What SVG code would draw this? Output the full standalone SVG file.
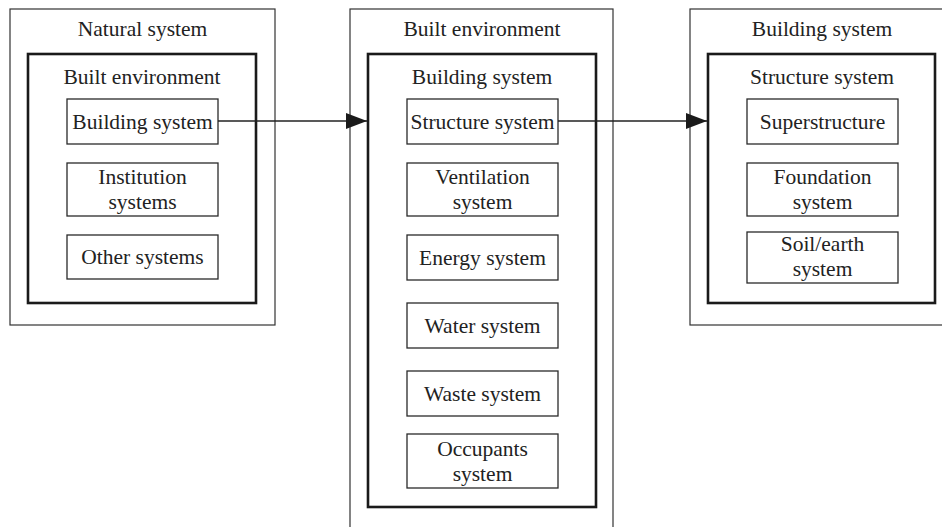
<svg xmlns="http://www.w3.org/2000/svg" width="942" height="527" viewBox="0 0 942 527">
<style>
.outer{fill:none;stroke:#333;stroke-width:1.2}
.inner{fill:none;stroke:#1a1a1a;stroke-width:2.6}
.box{fill:#fff;stroke:#2a2a2a;stroke-width:1.3}
text{font-family:"Liberation Serif","Times New Roman",serif;font-size:21.5px;fill:#222;text-anchor:middle}
.conn{stroke:#222;stroke-width:1.3;fill:none}
</style>
<defs>
<marker id="ah" markerWidth="21" markerHeight="16" refX="21" refY="8" orient="auto" markerUnits="userSpaceOnUse">
<path d="M0,0 L21,8 L0,16 Z" fill="#1a1a1a"/>
</marker>
</defs>
<rect width="942" height="527" fill="#fff"/>

<g id="natural-system">
<rect class="outer" x="10" y="9" width="265" height="316"/>
<text x="142.5" y="36">Natural system</text>
</g>
<g id="built-env-left">
<rect class="inner" x="28" y="54" width="228" height="249"/>
<text x="142" y="84">Built environment</text>
</g>
<g id="building-system-left">
<rect class="box" x="67" y="99" width="151" height="45"/>
<text x="142.5" y="129">Building system</text>
</g>
<g id="institution-systems">
<rect class="box" x="67" y="163" width="151" height="53"/>
<text x="142.5" y="184">Institution</text>
<text x="142.5" y="209">systems</text>
</g>
<g id="other-systems">
<rect class="box" x="67" y="235" width="151" height="44"/>
<text x="142.5" y="264">Other systems</text>
</g>

<g id="built-env-middle">
<rect class="outer" x="350" y="9" width="263" height="530"/>
<text x="482" y="36">Built environment</text>
</g>
<g id="building-system-middle">
<rect class="inner" x="368" y="54" width="228" height="453"/>
<text x="482" y="84">Building system</text>
</g>
<g id="structure-system-middle">
<rect class="box" x="407" y="99" width="151" height="45"/>
<text x="482.5" y="129">Structure system</text>
</g>
<g id="ventilation-system">
<rect class="box" x="407" y="163" width="151" height="53"/>
<text x="482.5" y="184">Ventilation</text>
<text x="482.5" y="209">system</text>
</g>
<g id="energy-system">
<rect class="box" x="407" y="235" width="151" height="45"/>
<text x="482.5" y="265">Energy system</text>
</g>
<g id="water-system">
<rect class="box" x="407" y="303" width="151" height="45"/>
<text x="482.5" y="333">Water system</text>
</g>
<g id="waste-system">
<rect class="box" x="407" y="371" width="151" height="45"/>
<text x="482.5" y="401">Waste system</text>
</g>
<g id="occupants-system">
<rect class="box" x="407" y="434" width="151" height="54"/>
<text x="482.5" y="456">Occupants</text>
<text x="482.5" y="481">system</text>
</g>

<g id="building-system-right">
<rect class="outer" x="690" y="9" width="260" height="316"/>
<text x="822" y="36">Building system</text>
</g>
<g id="structure-system-right">
<rect class="inner" x="708" y="54" width="227" height="249"/>
<text x="822" y="84">Structure system</text>
</g>
<g id="superstructure">
<rect class="box" x="747" y="99" width="151" height="45"/>
<text x="822.5" y="129">Superstructure</text>
</g>
<g id="foundation-system">
<rect class="box" x="747" y="163" width="151" height="53"/>
<text x="822.5" y="184">Foundation</text>
<text x="822.5" y="209">system</text>
</g>
<g id="soil-earth-system">
<rect class="box" x="747" y="232" width="151" height="51"/>
<text x="822.5" y="251">Soil/earth</text>
<text x="822.5" y="276">system</text>
</g>

<g id="connectors">
<line class="conn" x1="218" y1="121" x2="367" y2="121" marker-end="url(#ah)"/>
<line class="conn" x1="558" y1="121" x2="707" y2="121" marker-end="url(#ah)"/>
</g>
</svg>
